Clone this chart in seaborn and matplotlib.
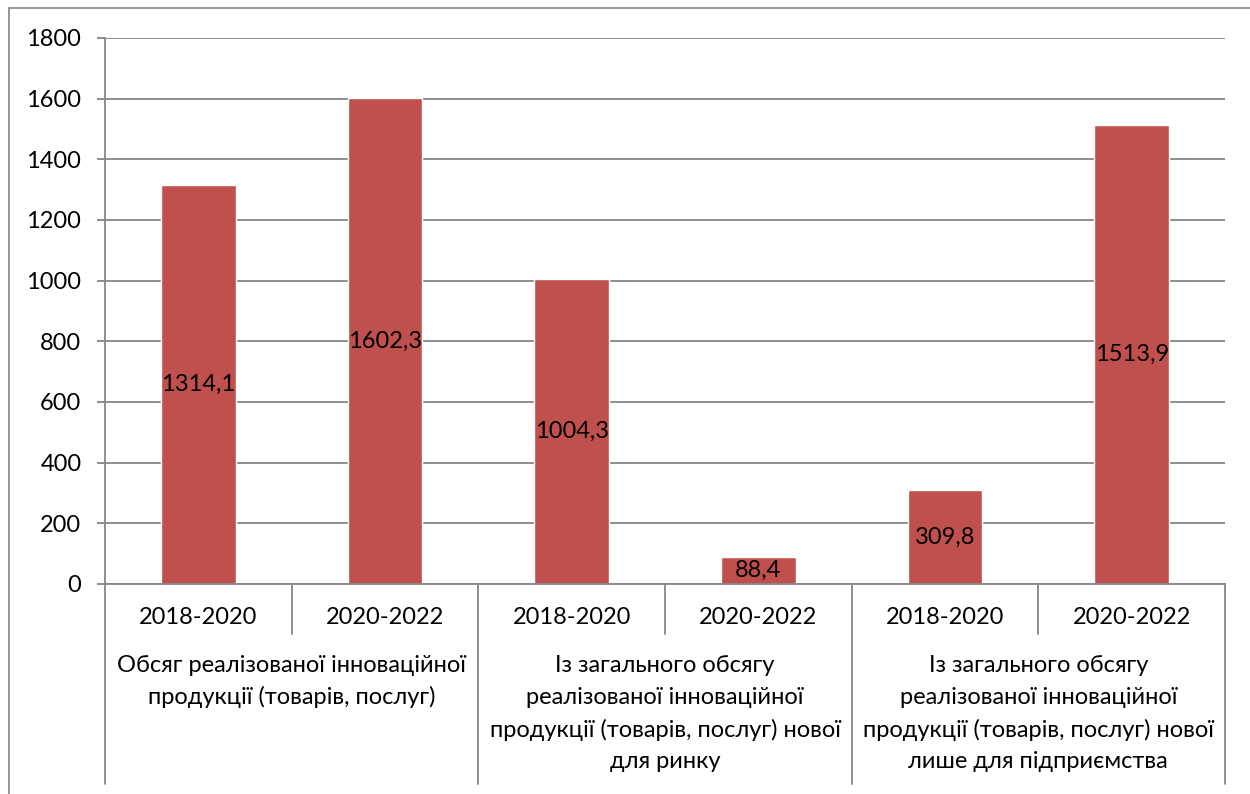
import matplotlib
matplotlib.use("Agg")
import matplotlib.pyplot as plt
from matplotlib.patches import Rectangle
from matplotlib.lines import Line2D
import seaborn as sns
import pandas as pd

# Chart data
groups = [
    "Обсяг реалізованої інноваційної\nпродукції (товарів, послуг)",
    "Із загального обсягу\nреалізованої інноваційної\nпродукції (товарів, послуг) нової\nдля ринку",
    "Із загального обсягу\nреалізованої інноваційної\nпродукції (товарів, послуг) нової\nлише для підприємства",
]
periods = ["2018-2020", "2020-2022"]
values = [1314.1, 1602.3, 1004.3, 88.4, 309.8, 1513.9]
y_ticks = [0, 200, 400, 600, 800, 1000, 1200, 1400, 1600, 1800]

bar_color = "#C0504D"
grid_color = "#868686"
font_size = 17

sns.set_theme(style="white")
plt.rcParams["font.family"] = ["Lato", "DejaVu Sans"]

df = pd.DataFrame({
    "key": [f"{g}|{p}" for g in range(len(groups)) for p in periods],
    "value": values,
})

W, H = 1250, 794
fig = plt.figure(figsize=(W / 100, H / 100), dpi=100)
ax = fig.add_axes([105 / W, 1 - 584 / H, (1225 - 105) / W, (584 - 38) / H])

sns.barplot(data=df, x="key", y="value", color=bar_color, width=0.4,
            saturation=1, ax=ax)

ax.set_ylim(0, 1800)
ax.set_xlim(-0.5, len(values) - 0.5)
ax.set_yticks(y_ticks)
ax.set_yticklabels([str(t) for t in y_ticks], fontsize=font_size, color="black")
ax.set_xticks([])
ax.set_xlabel("")
ax.set_ylabel("")
ax.yaxis.grid(True, color=grid_color, linewidth=1.3)
ax.set_axisbelow(True)
for side in ("top", "right"):
    ax.spines[side].set_visible(False)
for side in ("left", "bottom"):
    ax.spines[side].set_color(grid_color)
    ax.spines[side].set_linewidth(1.3)
ax.tick_params(axis="y", which="major", left=True, length=6, width=1.3,
               color=grid_color, pad=11)

# Value labels centred inside the bars
ax.bar_label(ax.containers[0],
             labels=[f"{v:.1f}".replace(".", ",") for v in values],
             label_type="center", fontsize=font_size, color="black")

# Two-level category axis
ax_h = 584 - 38
def yf(px_below):
    return -px_below / ax_h

trans = ax.get_xaxis_transform()
n = len(values)
for i in range(n):
    ax.text(i, yf(617 - 584), periods[i % 2], transform=trans, ha="center",
            va="center", fontsize=font_size, color="black")
# separators between periods (short) and between groups (long)
for b in range(n + 1):
    x = b - 0.5
    bottom = yf(784 - 584) if b % 2 == 0 else yf(634 - 584)
    ax.add_line(Line2D([x, x], [0, bottom], transform=trans, color=grid_color,
                       linewidth=1.3, clip_on=False))

line_step = 32.3
for gi, g in enumerate(groups):
    xc = gi * 2 + 0.5
    for li, line in enumerate(g.split("\n")):
        ax.text(xc, yf(665 - 584 + li * line_step), line, transform=trans,
                ha="center", va="center", fontsize=font_size, color="black")

# Outer frame of the chart area
fig.patches.append(Rectangle((9 / W, -0.2), 1.5, 1.2 - 8 / H, transform=fig.transFigure,
                             fill=False, edgecolor="#8c8c8c", linewidth=1.3))

fig.savefig("out.png", dpi=100)
